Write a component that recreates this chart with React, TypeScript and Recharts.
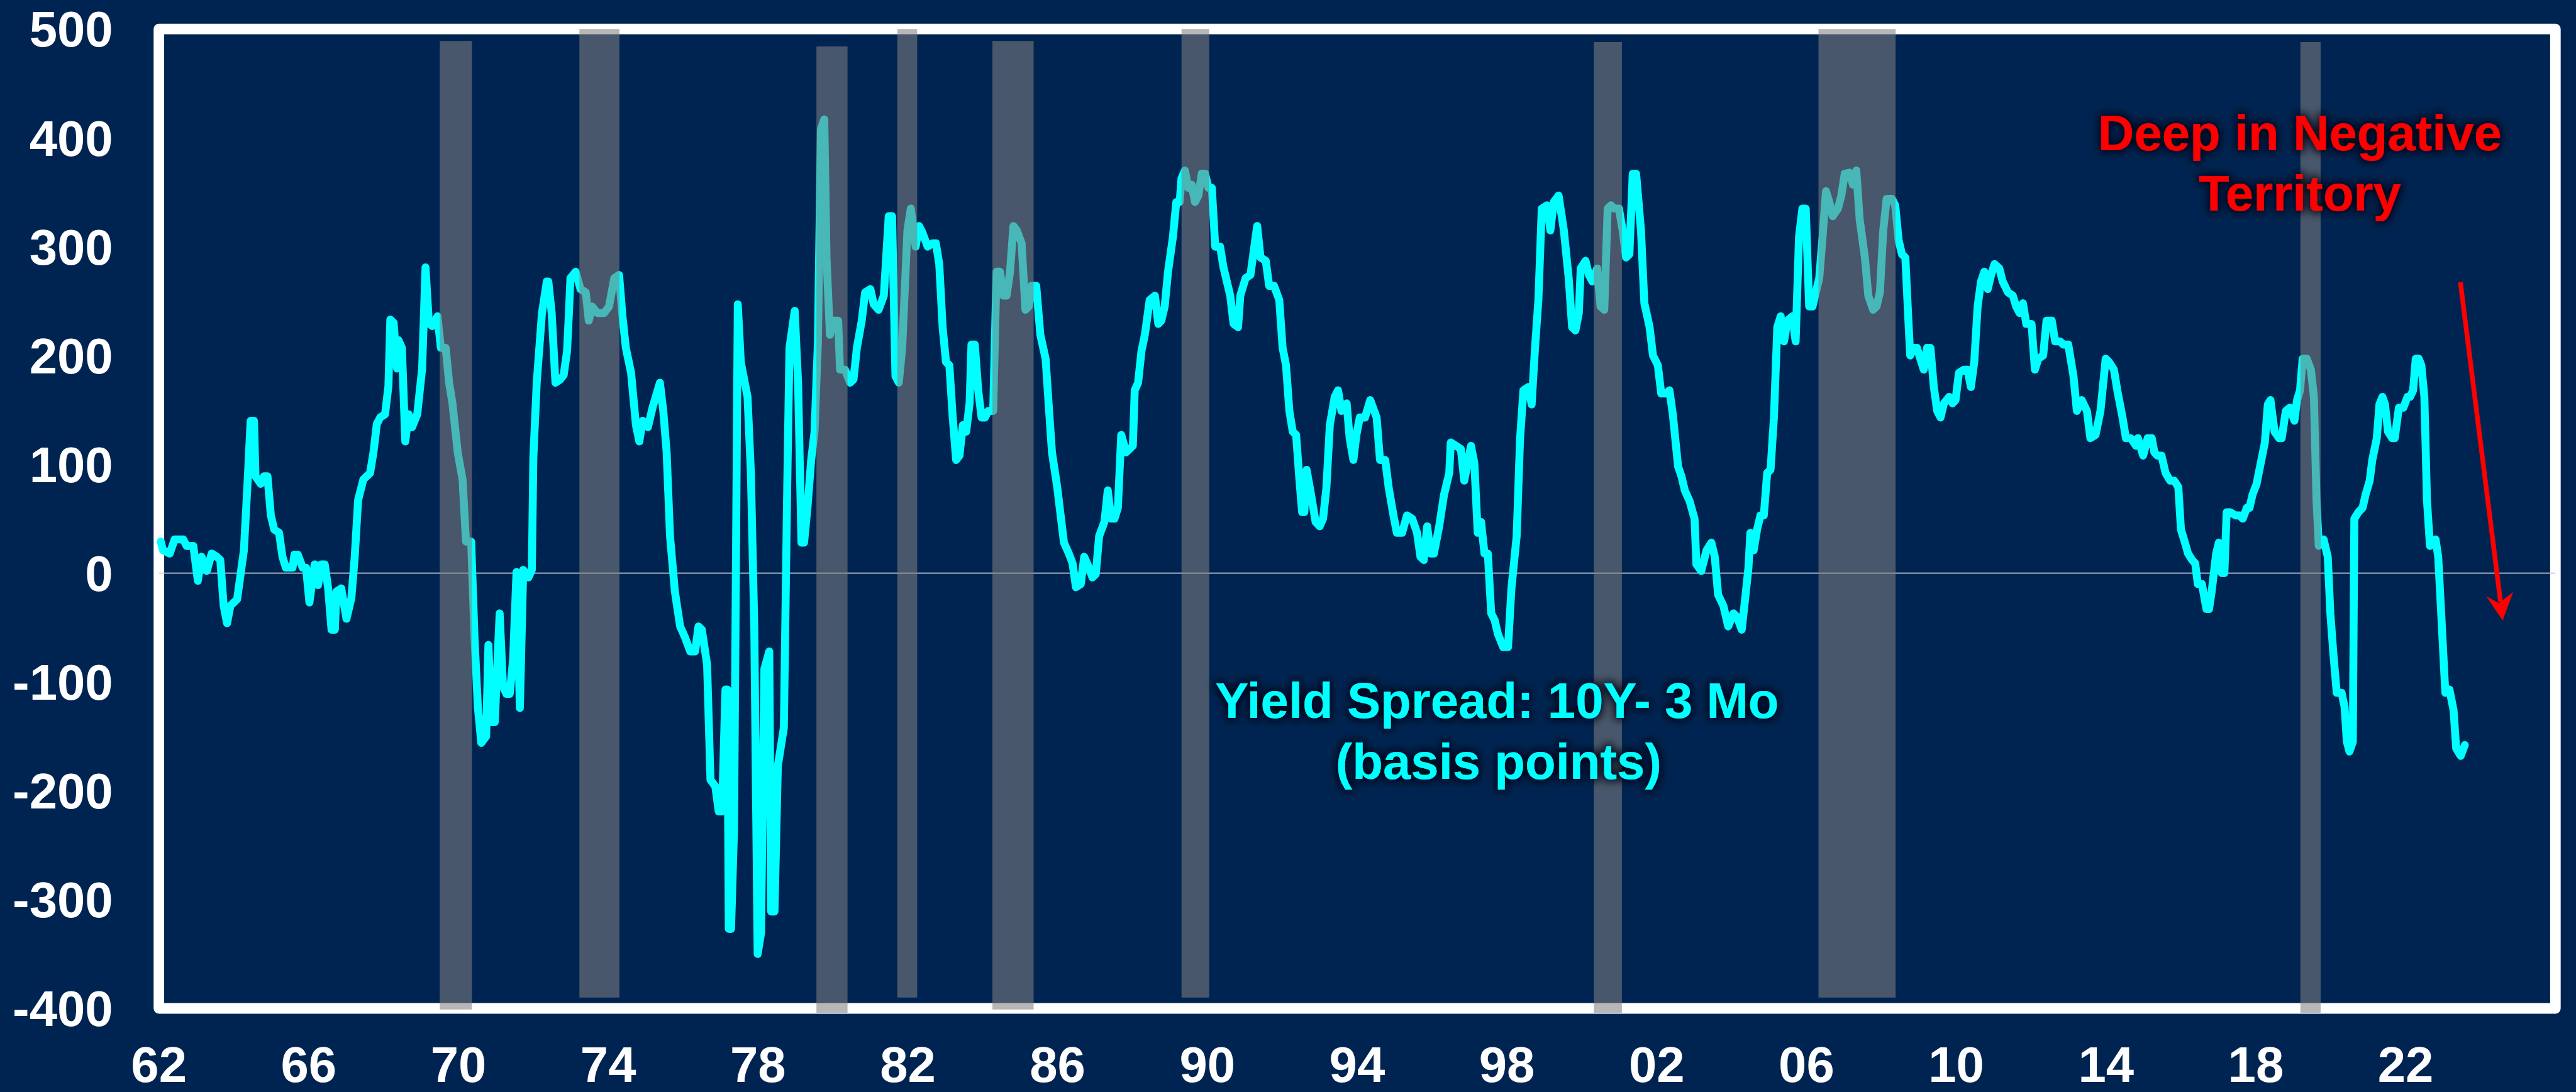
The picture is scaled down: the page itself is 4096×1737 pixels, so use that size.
import { LineChart, Line, XAxis, YAxis, ReferenceArea, ReferenceLine } from 'recharts';

const S = 4096 / 4880;
const W = 4096;
const H = 1737;

const BG = '#002451';
const CYAN = '#00FFFF';
const FONT = '"Liberation Sans", Arial, Helvetica, sans-serif';

// yield spread 10Y - 3M in basis points, [year, bp]
const spread1962_1975 = [
  [1962.05, 29], [1962.11, 21], [1962.29, 18], [1962.42, 31], [1962.65, 31], [1962.74, 25], [1962.92, 25],
  [1963.04, -7], [1963.14, 15], [1963.28, 2], [1963.41, 18], [1963.55, 15], [1963.64, 12], [1963.73, -30],
  [1963.82, -46], [1963.91, -30], [1964.09, -24], [1964.27, 21], [1964.36, 78], [1964.45, 140], [1964.54, 140],
  [1964.58, 89], [1964.72, 82], [1964.81, 89], [1964.9, 89], [1964.99, 53], [1965.08, 40], [1965.21, 37],
  [1965.3, 15], [1965.39, 5], [1965.57, 5], [1965.62, 17], [1965.71, 17], [1965.84, 5], [1965.93, 5],
  [1966.02, -27], [1966.16, 8], [1966.25, -11], [1966.34, 8], [1966.43, 8], [1966.52, -14], [1966.61, -52],
  [1966.7, -52], [1966.74, -17], [1966.87, -14], [1967.01, -42], [1967.14, -23], [1967.23, 15], [1967.32, 67],
  [1967.46, 86], [1967.64, 92], [1967.73, 111], [1967.82, 137], [1967.91, 143], [1968.04, 146], [1968.13, 172],
  [1968.18, 233], [1968.27, 230], [1968.36, 188], [1968.4, 214], [1968.49, 207], [1968.58, 121], [1968.67, 146],
  [1968.76, 134], [1968.9, 146], [1969.03, 188], [1969.12, 281], [1969.21, 230], [1969.3, 227], [1969.44, 236],
  [1969.53, 207], [1969.66, 207], [1969.75, 175], [1969.84, 156], [1969.98, 111], [1970.11, 86], [1970.2, 29],
  [1970.34, 29], [1970.43, -60], [1970.52, -124], [1970.61, -156], [1970.74, -150], [1970.8, -66], [1970.88, -137],
  [1970.97, -137], [1971.1, -37], [1971.19, -104], [1971.28, -111], [1971.37, -111], [1971.46, -79], [1971.55, 1],
  [1971.64, -124], [1971.73, 3], [1971.87, -4], [1971.96, 3], [1972.0, 106], [1972.09, 175], [1972.23, 239],
  [1972.36, 268], [1972.4, 268], [1972.49, 239], [1972.59, 175], [1972.72, 178], [1972.81, 182], [1972.9, 204],
  [1972.95, 239], [1972.99, 271], [1973.13, 277], [1973.26, 261], [1973.4, 258], [1973.48, 232], [1973.57, 245],
  [1973.71, 239], [1973.89, 239], [1974.02, 245], [1974.16, 271], [1974.29, 274], [1974.38, 236], [1974.47, 207],
  [1974.61, 184], [1974.74, 136], [1974.83, 121], [1974.92, 140], [1975.06, 134], [1975.19, 153],
];

const spread1975_1988 = [
  [1975.38, 175], [1975.47, 149], [1975.56, 111], [1975.65, 34], [1975.78, -17], [1975.92, -49], [1976.05, -59],
  [1976.19, -72], [1976.32, -72], [1976.41, -49], [1976.5, -52], [1976.64, -84], [1976.73, -190], [1976.86, -196],
  [1976.95, -219], [1977.04, -219], [1977.13, -107], [1977.18, -107], [1977.22, -327], [1977.28, -327],
  [1977.36, -235], [1977.46, 247], [1977.54, 194], [1977.72, 162], [1977.81, 92], [1977.9, -49], [1977.99, -350],
  [1978.08, -331], [1978.17, -88], [1978.3, -72], [1978.35, -311], [1978.44, -311], [1978.53, -177],
  [1978.69, -142], [1978.78, 79], [1978.84, 207], [1978.98, 241], [1979.07, 175], [1979.16, 28], [1979.23, 28],
  [1979.32, 60], [1979.42, 104], [1979.51, 130], [1979.6, 213], [1979.68, 408], [1979.77, 417], [1979.83, 290],
  [1979.92, 219], [1980.01, 232], [1980.14, 232], [1980.19, 187], [1980.32, 187], [1980.46, 175], [1980.55, 178],
  [1980.64, 207], [1980.77, 232], [1980.86, 258], [1981.0, 261], [1981.09, 247], [1981.22, 242], [1981.36, 255],
  [1981.49, 328], [1981.58, 328], [1981.67, 181], [1981.76, 175], [1981.85, 207], [1981.99, 315], [1982.08, 335],
  [1982.21, 300], [1982.3, 319], [1982.39, 313], [1982.53, 300], [1982.66, 303], [1982.75, 303], [1982.84, 284],
  [1982.93, 226], [1983.02, 194], [1983.11, 191], [1983.2, 143], [1983.29, 104], [1983.38, 108], [1983.47, 136],
  [1983.56, 130], [1983.65, 156], [1983.7, 210], [1983.79, 210], [1983.88, 168], [1983.97, 143], [1984.06, 143],
  [1984.15, 149], [1984.28, 149], [1984.37, 277], [1984.46, 277], [1984.55, 255], [1984.64, 255], [1984.73, 277],
  [1984.82, 319], [1984.91, 315], [1985.04, 303], [1985.14, 242], [1985.23, 245], [1985.31, 264], [1985.43, 264],
  [1985.54, 219], [1985.68, 197], [1985.76, 156], [1985.85, 111], [1985.99, 79], [1986.17, 28], [1986.3, 18],
  [1986.4, 9], [1986.49, -13], [1986.62, -10], [1986.71, 15], [1986.84, 5], [1986.93, -4], [1987.02, -1],
  [1987.11, 34], [1987.25, 47], [1987.34, 76], [1987.43, 50], [1987.52, 50], [1987.61, 60], [1987.7, 127],
  [1987.83, 111], [1988.01, 117], [1988.06, 168], [1988.15, 175], [1988.24, 204], [1988.33, 219], [1988.46, 251],
  [1988.6, 255], [1988.69, 229],
];

const spread1988_2002 = [
  [1988.77, 232], [1988.86, 245], [1988.95, 277], [1989.08, 309], [1989.17, 341], [1989.26, 341], [1989.31, 363],
  [1989.4, 370], [1989.49, 354], [1989.58, 357], [1989.67, 341], [1989.76, 347], [1989.85, 367], [1989.94, 367],
  [1990.03, 354], [1990.12, 354], [1990.21, 300], [1990.34, 300], [1990.43, 281], [1990.52, 268], [1990.61, 255],
  [1990.7, 229], [1990.82, 226], [1990.88, 255], [1991.02, 271], [1991.15, 274], [1991.33, 319], [1991.42, 290],
  [1991.56, 287], [1991.65, 264], [1991.78, 264], [1991.92, 251], [1992.01, 207], [1992.1, 191], [1992.19, 149],
  [1992.28, 130], [1992.37, 127], [1992.46, 85], [1992.53, 56], [1992.59, 56], [1992.65, 95], [1992.77, 72],
  [1992.89, 47], [1993.0, 43], [1993.09, 50], [1993.18, 79], [1993.27, 136], [1993.4, 162], [1993.49, 168],
  [1993.58, 149], [1993.72, 156], [1993.8, 124], [1993.9, 104], [1993.98, 127], [1994.07, 143], [1994.21, 143],
  [1994.35, 159], [1994.52, 143], [1994.61, 104], [1994.75, 104], [1994.84, 79], [1994.97, 53], [1995.06, 37],
  [1995.2, 37], [1995.33, 53], [1995.47, 50], [1995.6, 37], [1995.69, 15], [1995.78, 12], [1995.87, 43],
  [1995.96, 18], [1996.05, 18], [1996.19, 43], [1996.32, 72], [1996.46, 92], [1996.5, 120], [1996.64, 117],
  [1996.77, 114], [1996.86, 85], [1996.95, 101], [1997.04, 117], [1997.13, 101], [1997.22, 37], [1997.31, 47],
  [1997.4, 18], [1997.49, 18], [1997.58, -37], [1997.67, -43], [1997.76, -56], [1997.9, -68], [1998.03, -68],
  [1998.12, -14], [1998.26, 34], [1998.35, 123], [1998.44, 168], [1998.57, 171], [1998.66, 155], [1998.75, 207],
  [1998.84, 251], [1998.93, 335], [1999.07, 338], [1999.16, 315], [1999.25, 341], [1999.38, 347], [1999.52, 315],
  [1999.65, 271], [1999.74, 226], [1999.83, 223], [1999.92, 239], [1999.97, 280], [2000.1, 287], [2000.19, 274],
  [2000.28, 268], [2000.41, 280], [2000.5, 245], [2000.6, 242], [2000.69, 335], [2000.78, 338], [2000.86, 335],
  [2000.99, 335], [2001.09, 315], [2001.18, 290], [2001.27, 293], [2001.36, 367], [2001.45, 367], [2001.58, 315],
  [2001.67, 248], [2001.81, 226], [2001.9, 200], [2002.03, 191], [2002.12, 165],
];

const spread2002_2014 = [
  [2002.25, 165], [2002.34, 168], [2002.43, 146], [2002.57, 98], [2002.66, 89], [2002.75, 76], [2002.88, 66],
  [2003.01, 50], [2003.06, 8], [2003.19, 2], [2003.33, 21], [2003.46, 28], [2003.55, 15], [2003.64, -20],
  [2003.78, -30], [2003.91, -49], [2004.05, -37], [2004.14, -40], [2004.27, -52], [2004.36, -24], [2004.45, 5],
  [2004.5, 37], [2004.59, 21], [2004.68, 40], [2004.77, 53], [2004.86, 53], [2004.95, 92], [2005.04, 95],
  [2005.13, 143], [2005.22, 226], [2005.31, 236], [2005.4, 213], [2005.49, 232], [2005.62, 236], [2005.71, 213],
  [2005.8, 309], [2005.89, 335], [2005.98, 335], [2006.07, 245], [2006.16, 245], [2006.25, 258], [2006.34, 271],
  [2006.43, 309], [2006.52, 351], [2006.61, 341], [2006.7, 328], [2006.84, 335], [2006.93, 347], [2007.02, 367],
  [2007.15, 368], [2007.24, 357], [2007.33, 370], [2007.42, 325], [2007.56, 290], [2007.65, 255], [2007.78, 242],
  [2007.87, 245], [2007.96, 258], [2008.05, 315], [2008.14, 344], [2008.28, 344], [2008.37, 338], [2008.46, 306],
  [2008.55, 293], [2008.64, 290], [2008.73, 226], [2008.77, 200], [2008.86, 207], [2008.95, 207], [2009.04, 197],
  [2009.13, 187], [2009.22, 207], [2009.31, 207], [2009.4, 171], [2009.49, 149], [2009.58, 143], [2009.67, 156],
  [2009.81, 162], [2009.9, 156], [2009.98, 159], [2010.07, 184], [2010.21, 187], [2010.3, 187], [2010.39, 171],
  [2010.48, 194], [2010.57, 245], [2010.66, 268], [2010.75, 277], [2010.84, 261], [2010.93, 274], [2011.02, 284],
  [2011.15, 280], [2011.24, 268], [2011.38, 258], [2011.51, 255], [2011.6, 245], [2011.69, 239], [2011.78, 248],
  [2011.87, 229], [2012.01, 229], [2012.1, 187], [2012.19, 197], [2012.32, 200], [2012.41, 232], [2012.55, 232],
  [2012.64, 213], [2012.77, 213], [2012.86, 210], [2012.99, 210], [2013.13, 181], [2013.22, 149], [2013.35, 159],
  [2013.49, 149], [2013.58, 124], [2013.72, 127], [2013.85, 149], [2013.99, 197], [2014.08, 194], [2014.21, 187],
  [2014.3, 168], [2014.44, 143], [2014.53, 124], [2014.66, 124], [2014.8, 117],
];

const spread2014_2023 = [
  [2014.85, 124], [2014.99, 108], [2015.11, 124], [2015.22, 124], [2015.29, 111], [2015.37, 108], [2015.48, 108],
  [2015.59, 92], [2015.71, 85], [2015.82, 85], [2015.93, 79], [2016.0, 40], [2016.08, 31], [2016.19, 18],
  [2016.3, 12], [2016.38, 9], [2016.45, -10], [2016.56, -10], [2016.68, -33], [2016.75, -33], [2016.82, -17],
  [2016.94, 18], [2017.01, 28], [2017.09, 0], [2017.16, 0], [2017.22, 56], [2017.31, 56], [2017.46, 53],
  [2017.57, 53], [2017.65, 50], [2017.76, 60], [2017.83, 60], [2017.91, 72], [2018.02, 82], [2018.13, 101],
  [2018.24, 120], [2018.32, 155], [2018.39, 159], [2018.5, 130], [2018.62, 124], [2018.69, 124], [2018.8, 149],
  [2018.91, 152], [2019.03, 140], [2019.1, 159], [2019.18, 168], [2019.25, 197], [2019.36, 197], [2019.47, 187],
  [2019.55, 162], [2019.62, 67], [2019.68, 25], [2019.81, 31], [2019.92, 15], [2019.99, -37], [2020.07, -74],
  [2020.16, -110], [2020.29, -110], [2020.37, -123], [2020.43, -155], [2020.5, -164], [2020.59, -155],
  [2020.63, 50], [2020.74, 56], [2020.85, 60], [2020.93, 72], [2021.04, 85], [2021.11, 104], [2021.23, 124],
  [2021.3, 155], [2021.38, 162], [2021.45, 155], [2021.53, 130], [2021.64, 124], [2021.71, 124], [2021.82, 152],
  [2021.94, 152], [2022.05, 162], [2022.12, 162], [2022.2, 168], [2022.27, 197], [2022.35, 197], [2022.42, 191],
  [2022.5, 162], [2022.57, 67], [2022.65, 25], [2022.8, 31], [2022.87, 15], [2022.95, -37], [2023.06, -110],
  [2023.17, -107], [2023.28, -126], [2023.35, -161], [2023.47, -168], [2023.58, -158],
];

// shaded recession bands
const recessionStart = [1969.5, 1973.23, 1979.56, 1981.72, 1984.26, 1989.31, 2000.32, 2006.32, 2019.19];
const recessionEnd = [1970.36, 1974.3, 1980.39, 1982.25, 1985.36, 1990.05, 2001.07, 2008.38, 2019.73];
const recessionTop = [489, 500, 484, 500, 489, 500, 488, 500, 488];
const recessionBottom = [-401, -390, -404, -390, -401, -390, -404, -390, -404];

const yearTicks = [1962, 1966, 1970, 1974, 1978, 1982, 1986, 1990, 1994, 1998, 2002, 2006, 2010, 2014, 2018, 2022];
const bpTicks = [-400, -300, -200, -100, 0, 100, 200, 300, 400, 500];

const data = [
  ...spread1962_1975,
  ...spread1975_1988,
  ...spread1988_2002,
  ...spread2002_2014,
  ...spread2014_2023,
].map(([year, bp]) => ({ year, bp }));

const tickStyle = { fill: '#FFFFFF', fontSize: 95 * S, fontWeight: 700, fontFamily: FONT };

const GlowText = ({ x, y, color, children }: { x: number; y: number; color: string; children: string }) => (
  <text
    x={x * S}
    y={y * S}
    textAnchor="middle"
    fill={color}
    fontFamily={FONT}
    fontWeight={700}
    fontSize={95 * S}
    filter="url(#darkGlow)"
  >
    {children}
  </text>
);

export default function App() {
  return (
    <div style={{ position: 'absolute', left: 0, top: 0, width: W, height: H, background: BG, overflow: 'hidden' }}>
      <LineChart width={W} height={H} data={data} margin={{ top: 55 * S, right: W - 4841 * S, left: 0, bottom: 0 }}>
        <XAxis
          dataKey="year"
          type="number"
          domain={[1962, 2026]}
          ticks={yearTicks}
          tickFormatter={(v: number) => String(v % 100).padStart(2, '0')}
          axisLine={false}
          tickLine={false}
          tickSize={0}
          tickMargin={60}
          height={H - 1911 * S}
          tick={tickStyle}
          interval={0}
        />
        <YAxis
          type="number"
          domain={[-400, 500]}
          ticks={bpTicks}
          axisLine={false}
          tickLine={false}
          tickSize={0}
          tickMargin={73}
          width={301 * S}
          tick={tickStyle}
          interval={0}
        />
        <ReferenceArea
          x1={1962}
          x2={2026}
          y1={-400}
          y2={500}
          fill="none"
          stroke="#FFFFFF"
          strokeWidth={20 * S}
          strokeLinejoin="round"
          ifOverflow="visible"
          zIndex={50}
        />
        <ReferenceLine y={0} stroke="#C8CCD4" strokeWidth={2.2 * S} ifOverflow="visible" zIndex={60} />
        <Line
          type="linear"
          dataKey="bp"
          stroke={CYAN}
          strokeWidth={15 * S}
          strokeLinejoin="round"
          strokeLinecap="round"
          dot={false}
          activeDot={false}
          isAnimationActive={false}
        />
        {recessionStart.map((start, i) => (
          <ReferenceArea
            key={`rec-${i}`}
            x1={start}
            x2={recessionEnd[i]}
            y1={recessionBottom[i]}
            y2={recessionTop[i]}
            fill="#808080"
            fillOpacity={0.565}
            stroke="none"
            ifOverflow="visible"
            zIndex={450}
          />
        ))}
      </LineChart>
      <svg width={W} height={H} style={{ position: 'absolute', left: 0, top: 0, pointerEvents: 'none' }}>
        <defs>
          <filter id="darkGlow" x="-20%" y="-60%" width="140%" height="220%">
            <feMorphology in="SourceAlpha" operator="dilate" radius={3} result="fat" />
            <feGaussianBlur in="fat" stdDeviation={7} result="blur" />
            <feFlood floodColor="#000814" floodOpacity={0.95} />
            <feComposite in2="blur" operator="in" result="glow" />
            <feMerge>
              <feMergeNode in="glow" />
              <feMergeNode in="SourceGraphic" />
            </feMerge>
          </filter>
        </defs>
        <GlowText x={4357} y={285} color="#FF0000">Deep in Negative</GlowText>
        <GlowText x={4357} y={399} color="#FF0000">Territory</GlowText>
        <GlowText x={2836} y={1361} color={CYAN}>Yield Spread: 10Y- 3 Mo</GlowText>
        <GlowText x={2839} y={1476} color={CYAN}>(basis points)</GlowText>
        <line x1={4661 * S} y1={535 * S} x2={4737 * S} y2={1140 * S} stroke="#FF0000" strokeWidth={9 * S} />
        <polygon
          points={[
            [4741, 1176],
            [4710, 1130],
            [4734, 1143],
            [4761, 1122],
          ]
            .map(([px, py]) => `${px * S},${py * S}`)
            .join(' ')}
          fill="#FF0000"
        />
      </svg>
    </div>
  );
}
